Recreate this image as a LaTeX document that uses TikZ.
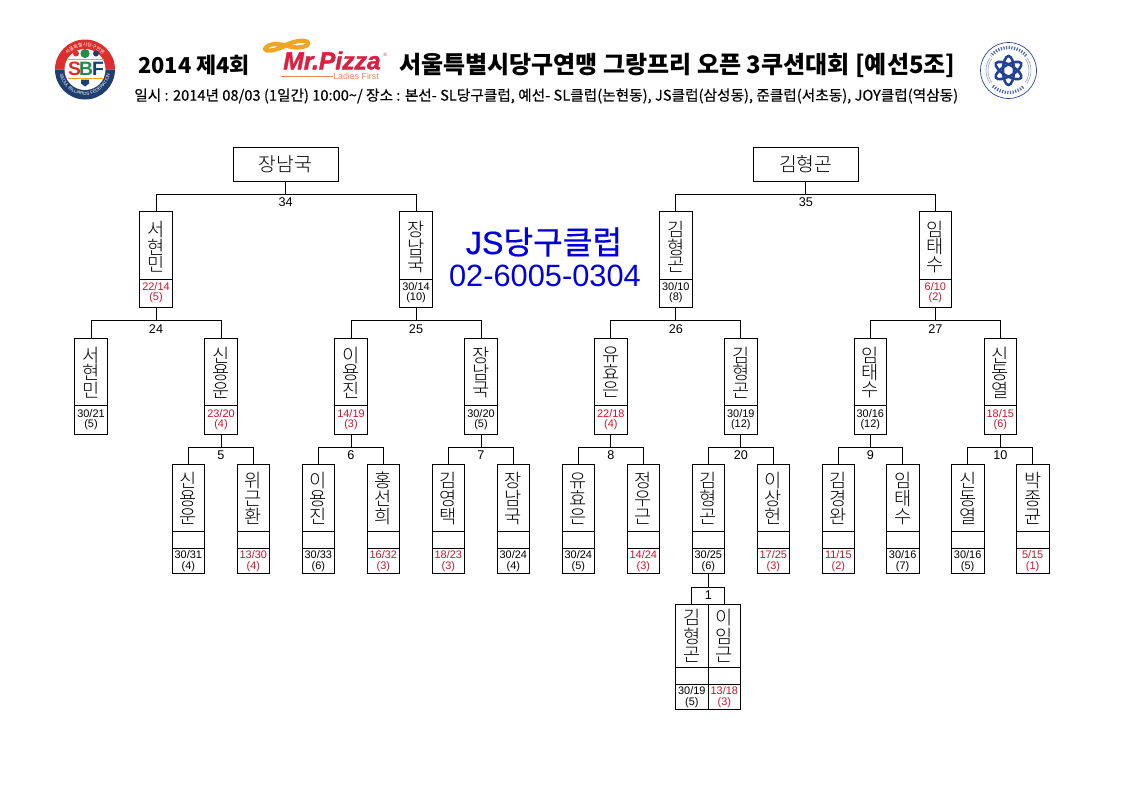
\documentclass[tikz,border=0pt]{standalone}
\usepackage{fontspec}
\usetikzlibrary{fit,decorations.text}
\setmainfont{Liberation Sans}
\newfontfamily\kr{Noto Sans CJK KR}
\newfontfamily\krl{Noto Sans CJK KR Light}
\newfontfamily\krm{Noto Sans CJK KR}[FakeBold=0.5]
\newfontfamily\krs{Noto Sans CJK KR}[FakeBold=0.25]
\newfontfamily\jsf{Liberation Sans}[FakeBold=0.5]
\newfontfamily\pzf{Liberation Sans}[BoldItalicFeatures={FakeBold=1.6}]
\definecolor{lose}{RGB}{200,20,45}
\definecolor{win}{RGB}{0,0,0}
\definecolor{jsblue}{RGB}{0,0,215}
\definecolor{sbfred}{RGB}{222,45,45}
\definecolor{sbfnavy}{RGB}{30,62,112}
\definecolor{sbfgreen}{RGB}{30,140,75}
\definecolor{pzred}{RGB}{222,30,65}
\definecolor{pzorange}{RGB}{240,165,35}
\definecolor{pzline}{RGB}{225,135,85}
\definecolor{atomblue}{RGB}{35,65,150}
\tikzset{
  cell/.style={draw=black,line width=0.75pt,inner sep=0pt,outer sep=0pt},
  link/.style={draw=black,line width=0.75pt},
  namev/.style={inner sep=0pt,align=center,font=\krl\fontsize{14}{\namelead}\selectfont},
  nameh/.style={inner sep=0pt,font=\krl\fontsize{14.5}{16}\selectfont},
  scoretxt/.style={inner sep=0pt,align=center,font=\fontsize{8.2}{7.9}\selectfont},
  numtxt/.style={inner sep=0pt,font=\fontsize{9.5}{10}\selectfont},
}
% level geometry: top, bottom, dividers, name y, score y, name leading
\newcommand{\SetLevel}[6]{\def\ytop{#1}\def\ybot{#2}\def\divs{#3}\def\namey{#4}\def\scorey{#5}\def\namelead{#6}}
% id, x0, x1, name (with \\), score, games, colour
\newcommand{\Player}[7]{%
  \node[cell,fit={(#2,\ytop) (#3,\ybot)}] (#1) {};
  \foreach \d in \divs {\draw[link] (#2,\d) -- (#3,\d);}
  \path (#1.center |- 0,\namey) node[namev] (#1-name) {#4};
  \path (#1.center |- 0,\scorey) node[scoretxt,text=#7] (#1-score) {#5\\#6};
}
% id, parent, left, right, rail y, label y, label
\newcommand{\Bracket}[7]{%
  \coordinate (#1-rail) at (0,#5);
  \coordinate (#1-lab) at (0,#6);
  \draw[link] (#2.south) -- (#2.south |- #1-rail);
  \draw[link] (#3.north) -- (#3.north |- #1-rail) -- (#4.north |- #1-rail) -- (#4.north);
  \path (#2.south |- #1-lab) node[numtxt] (#1) {#7};
}
\begin{document}
\begin{tikzpicture}[x=0.75pt,y=-0.75pt]
\useasboundingbox (0,0) rectangle (1123,794);

% ---- headings
\node[inner sep=0pt,anchor=west,font=\kr\bfseries\fontsize{16.4}{20}\selectfont] (t1) at (138,65) {2014 제4회};
\node[inner sep=0pt,anchor=west,font=\kr\bfseries\fontsize{18}{20}\selectfont] (t2) at (399,65) {서울특별시당구연맹 그랑프리 오픈 3쿠션대회 [예선5조]};
\node[inner sep=0pt,anchor=west,font=\krs\fontsize{11}{12}\selectfont] (t3) at (134,96) {일시 : 2014년 08/03 (1일간) 10:00\string~/ 장소 : 본선- SL당구클럽, 예선- SL클럽(논현동), JS클럽(삼성동), 준클럽(서초동), JOY클럽(역삼동)};

% ---- Mr.Pizza logo
\draw[pzorange,line width=3.2pt,line join=round] (265,49) .. controls (269,42) and (280,44) .. (288,46) .. controls (296,49) and (309,47) .. (308,43) .. controls (307,39) and (295,41) .. (288,44) .. controls (280,49) and (267,53) .. (265,49) -- cycle;
\node[inner sep=0pt,anchor=west,text=pzred,font=\pzf\bfseries\itshape\fontsize{18.5}{20}\selectfont] (pz) at (283,60.5) {Mr.Pizza};
\node[inner sep=0pt,anchor=west,text=pzline,font=\fontsize{6.6}{7}\selectfont] (pzl) at (333,76.5) {Ladies First};
\draw[pzline,line width=0.5pt] (281,76.5) -- (pzl.west);
\node[inner sep=0pt,text=pzred,font=\fontsize{3.5}{4}\selectfont] (pzr) at (385,55) {®};

% ---- SBF logo
\begin{scope}[shift={(85,69.5)},y=0.75pt]
  \fill[sbfred] (-30,0) arc (180:0:30) -- cycle;
  \fill[sbfnavy] (-30,0) arc (180:360:30) -- cycle;
  \fill[white] (0,0) circle (20.5);
  \path[decorate,decoration={text along path,text align=center,
     text={|\fontsize{3.4}{4}\selectfont\color{white}|SEOUL BILLIARDS FEDERATION}}]
     (190:25.5) arc (190:350:25.5);
  \path[decorate,decoration={text along path,text align=center,
     text={|\kr\fontsize{3.6}{4}\selectfont\color{white}|서울특별시당구연맹}}]
     (160:23) arc (160:20:23);
  \fill[sbfred] (-9,16) circle (3);
  \fill[sbfgreen] (0,16) circle (4.6);
  \fill[sbfnavy] (11,16) circle (3);
  \draw[pzorange,line width=0.75pt] (-17,10.5) -- (19,10.5);
  \draw[pzorange,line width=0.75pt] (-17,-8.5) -- (19,-8.5);
  \node[inner sep=0pt,text=sbfred,font=\bfseries\fontsize{14.5}{14}\selectfont] (sbfs) at (-10.5,1) {S};
  \node[inner sep=0pt,text=sbfgreen,font=\bfseries\fontsize{14.5}{14}\selectfont] (sbfb) at (1,1) {B};
  \node[inner sep=0pt,text=sbfnavy,font=\bfseries\fontsize{14.5}{14}\selectfont] (sbff) at (13,1) {F};
  \fill[sbfnavy] (-4,-10) -- (4,-10) -- (4,-14) -- (0,-17) -- (-4,-14) -- cycle;
\end{scope}

% ---- atom logo
\begin{scope}[shift={(1008.5,70.5)},y=0.75pt]
  \draw[atomblue,line width=0.5pt] (0,0) circle (28);
  \foreach \r in {20.5,22.5}{
    \draw[atomblue!70,line width=0.3pt] (-35:\r) arc (-35:35:\r);
    \draw[atomblue!70,line width=0.3pt] (145:\r) arc (145:215:\r);
  }
  \draw[atomblue!80,line width=2.4pt,dash pattern=on 0.9pt off 1.1pt] (40:23) arc (40:140:23);
  \draw[atomblue!80,line width=2.4pt,dash pattern=on 0.9pt off 1.1pt] (225:22) arc (225:315:22);
  \foreach \a in {30,90,150}
    \draw[atomblue,line width=1.9pt,rotate=\a] (0,0) ellipse (14.5 and 5.5);
\end{scope}

% ---- JS club
\node[inner sep=0pt,text=jsblue,font=\jsf\fontsize{24.2}{26}\selectfont] (js1) at (544,242) {JS{\krm 당구클럽}};
\node[inner sep=0pt,text=jsblue,font=\fontsize{23.1}{26}\selectfont] (js2) at (545,276) {02-6005-0304};

% ---- finals
\node[cell,fit={(233.3,147.5) (338,181)}] (L) {};
\path (L.center) node[nameh] (L-name) {장남국};
\node[cell,fit={(753.3,147.5) (858.3,181)}] (R) {};
\path (R.center) node[nameh] (R-name) {김형곤};

% ---- level 2
\SetLevel{211.5}{307.5}{279.5}{247}{292.5}{13.1}
\Player{a1}{139.5}{172.5}{서\\현\\민}{22/14}{(5)}{lose}
\Player{a2}{399.5}{432.5}{장\\남\\국}{30/14}{(10)}{win}
\Player{a3}{659.3}{692.3}{김\\형\\곤}{30/10}{(8)}{win}
\Player{a4}{919.3}{951.3}{임\\태\\수}{6/10}{(2)}{lose}

% ---- level 3
\SetLevel{338.5}{434.5}{405.5}{372.5}{419.5}{13.1}
\Player{b1}{74.5}{107.5}{서\\현\\민}{30/21}{(5)}{win}
\Player{b2}{204.5}{237.5}{신\\용\\운}{23/20}{(4)}{lose}
\Player{b3}{334.5}{367.5}{이\\용\\진}{14/19}{(3)}{lose}
\Player{b4}{464.5}{497.5}{장\\남\\국}{30/20}{(5)}{win}
\Player{b5}{594.3}{627.3}{유\\효\\은}{22/18}{(4)}{lose}
\Player{b6}{724.3}{757.3}{김\\형\\곤}{30/19}{(12)}{win}
\Player{b7}{854.3}{886.3}{임\\태\\수}{30/16}{(12)}{win}
\Player{b8}{984.3}{1016.3}{신\\동\\열}{18/15}{(6)}{lose}

% ---- level 4
\SetLevel{464.3}{573.3}{531,548}{498.5}{561}{13.6}
\Player{c1}{172.3}{204.3}{신\\용\\운}{30/31}{(4)}{win}
\Player{c2}{237.3}{269.3}{위\\근\\환}{13/30}{(4)}{lose}
\Player{c3}{302.3}{334.3}{이\\용\\진}{30/33}{(6)}{win}
\Player{c4}{367.3}{399.3}{홍\\선\\희}{16/32}{(3)}{lose}
\Player{c5}{432.3}{464.3}{김\\영\\택}{18/23}{(3)}{lose}
\Player{c6}{497.3}{529.3}{장\\남\\국}{30/24}{(4)}{win}
\Player{c7}{562.3}{594.3}{유\\효\\은}{30/24}{(5)}{win}
\Player{c8}{627.3}{659.3}{정\\우\\근}{14/24}{(3)}{lose}
\Player{c9}{692.3}{724.3}{김\\형\\곤}{30/25}{(6)}{win}
\Player{c10}{757.3}{789.3}{이\\상\\헌}{17/25}{(3)}{lose}
\Player{c11}{822.3}{854.3}{김\\경\\완}{11/15}{(2)}{lose}
\Player{c12}{886.3}{919}{임\\태\\수}{30/16}{(7)}{win}
\Player{c13}{951.3}{984}{신\\동\\열}{30/16}{(5)}{win}
\Player{c14}{1016.3}{1049}{박\\종\\균}{5/15}{(1)}{lose}

% ---- level 5
\SetLevel{604.3}{709.3}{667.3,684.3}{636}{697}{13.8}
\Player{d1}{675.3}{708.3}{김\\형\\곤}{30/19}{(5)}{win}
\Player{d2}{708.3}{740.3}{이\\임\\근}{13/18}{(3)}{lose}

% ---- connectors
\Bracket{n34}{L}{a1}{a2}{194.3}{202}{34}
\Bracket{n35}{R}{a3}{a4}{194.3}{202}{35}
\Bracket{n24}{a1}{b1}{b2}{320.5}{329}{24}
\Bracket{n25}{a2}{b3}{b4}{320.5}{329}{25}
\Bracket{n26}{a3}{b5}{b6}{320.5}{329}{26}
\Bracket{n27}{a4}{b7}{b8}{320.5}{329}{27}
\Bracket{n5}{b2}{c1}{c2}{447.3}{455}{5}
\Bracket{n6}{b3}{c3}{c4}{447.3}{455}{6}
\Bracket{n7}{b4}{c5}{c6}{447.3}{455}{7}
\Bracket{n8}{b5}{c7}{c8}{447.3}{455}{8}
\Bracket{n20}{b6}{c9}{c10}{447.3}{455}{20}
\Bracket{n9}{b7}{c11}{c12}{447.3}{455}{9}
\Bracket{n10}{b8}{c13}{c14}{447.3}{455}{10}
\Bracket{n1}{c9}{d1}{d2}{587.3}{595.5}{1}
\end{tikzpicture}
\end{document}
